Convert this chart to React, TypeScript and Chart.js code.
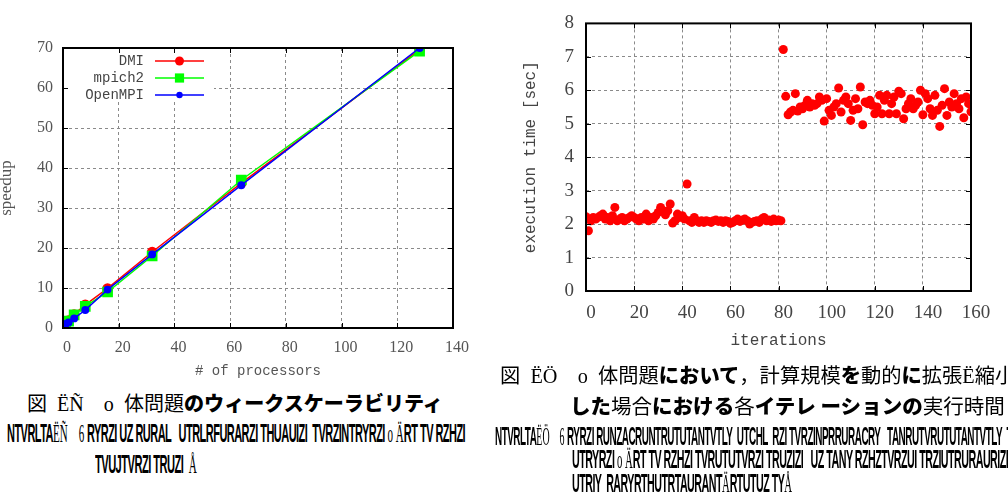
import React, { useEffect, useLayoutEffect, useRef } from "react";
import { Chart, registerables } from "chart.js";

Chart.register(...registerables);

// ---------- Left figure: weak scalability ----------
const processors = [1, 2, 4, 8, 16, 32, 64, 128];
const dmiSpeedup = [1, 1.9, 3.4, 5.8, 9.9, 19.0, 36.2, 69.6];
const mpich2Speedup = [1, 1.7, 3.3, 5.4, 9.0, 18.0, 37.0, 69.2];
const openmpiSpeedup = [1, 1.4, 2.4, 4.5, 9.6, 18.4, 35.7, 70.0];
const speedupXTicks = [0, 20, 40, 60, 80, 100, 120, 140];
const speedupYTicks = [0, 10, 20, 30, 40, 50, 60, 70];

// ---------- Right figure: execution time of each iteration ----------
const execTime = [
  2.22, 1.8, 2.1, 2.2, 2.15, 2.2, 2.25, 2.3, 2.15, 2.2,
  2.1, 2.25, 2.5, 2.1, 2.15, 2.2, 2.1, 2.15, 2.2, 2.25,
  2.2, 2.15, 2.1, 2.2, 2.15, 2.3, 2.1, 2.2, 2.15, 2.25,
  2.35, 2.5, 2.4, 2.28, 2.4, 2.6, 2.03, 2.1, 2.3, 2.2,
  2.25, 2.15, 3.2, 2.1, 2.05, 2.2, 2.1, 2.05, 2.1, 2.05,
  2.1, 2.08, 2.05, 2.1, 2.12, 2.08, 2.1, 2.05, 2.1, 2.08,
  2.02, 2.05, 2.1, 2.15, 2.08, 2.12, 2.15, 2.1, 2.0, 2.05,
  2.08, 2.1, 2.05, 2.15, 2.2, 2.1, 2.12, 2.08, 2.15, 2.1,
  2.12, 2.1, 7.22, 5.82, 5.27, 5.35, 5.4, 5.9, 5.38, 5.5,
  5.45, 5.55, 5.7, 5.5, 5.6, 5.55, 5.6, 5.8, 5.7, 5.08,
  5.75, 5.4, 5.25, 5.5, 5.6, 6.07, 5.35, 5.7, 5.8, 5.6,
  5.1, 5.4, 5.75, 5.45, 6.1, 4.97, 5.65, 5.6, 5.7, 5.55,
  5.3, 5.5, 5.85, 5.3, 5.7, 5.85, 5.3, 5.6, 5.8, 5.3,
  5.97, 5.9, 5.15, 5.45, 5.6, 5.75, 5.45, 5.55, 5.65, 6.0,
  5.27, 5.9, 5.75, 5.45, 5.25, 5.85, 5.4, 4.92, 5.55, 6.05,
  5.25, 5.65, 5.5, 5.9, 5.6, 5.45, 5.75, 5.18, 5.8, 5.6,
  5.36,
];
const iterXTicks = [0, 20, 40, 60, 80, 100, 120, 140, 160];
const timeYTicks = [0, 1, 2, 3, 4, 5, 6, 7, 8];

// ---------- Captions ----------
type Seg = [string, string];
const capL1: Seg[] = [["k", "図"], ["s", "  ËÑ    o  "], ["k", "体問題"], ["b", "のウィークスケーラビリティ"]];
const capL2: Seg[] = [["g", "NTVRLTA"], ["s", "ËÑ"], ["s", "    6 "], ["g", "RYRZI UZ RURAL   UTRLRFURARZI THUAUIZI  TVRZINTRYRZI"], ["s", " o Ä"], ["g", "RT TV RZHZI"]];
const capL3: Seg[] = [["g", "TVUJTVRZI TRUZI"], ["s", "  Å"]];
const capR1: Seg[] = [["k", "図"], ["s", "  ËÖ    o  "], ["k", "体問題"], ["b", "において"], ["k", "，計算規模"], ["b", "を"], ["k", "動的"], ["b", "に"], ["k", "拡張"], ["s", "Ë"], ["k", "縮小"]];
const capR2: Seg[] = [["b", "した"], ["k", "場合"], ["b", "における"], ["k", "各"], ["b", "イテレ ーションの"], ["k", "実行時間"]];
const capR3: Seg[] = [["g", "NTVRLTA"], ["s", "ËÖ"], ["s", "    6 "], ["g", "RYRZI RUNZACRUNTRUTUTANTVTLY  UTCHL  RZI TVRZINPRRURACRY   TANRUTVRUTUTANTVTLY  TVR"]];
const capR4: Seg[] = [["g", "UTRYRZI"], ["s", " o Ä"], ["g", "RT TV RZHZI TVRUTUTVRZI TRUZIZI   UZ TANY RZHZTVRZUI TRZIUTRURAURIZI"]];
const capR5: Seg[] = [["g", "UTRIY  RARYRTHUTRTAURANT"], ["s", "Ä"], ["g", "RTUTUZ TY"], ["s", "Å"]];

const segStyle = (k: string): React.CSSProperties => {
  if (k === "k") return { fontFamily: '"Noto Sans CJK JP"', fontWeight: 400, fontSize: "20px" };
  if (k === "b") return { fontFamily: '"Noto Sans CJK JP"', fontWeight: 900, fontSize: "20px" };
  if (k === "s") return { fontFamily: '"Liberation Serif"', fontWeight: 400, fontSize: "20px" };
  return { fontFamily: '"Liberation Sans Narrow", "Liberation Sans", sans-serif', fontWeight: 700, fontSize: "20px", letterSpacing: "-1px" };
};

function FitLine({ x, y, w, sy = 1, segs }: { x: number; y: number; w: number; sy?: number; segs: Seg[] }) {
  const ref = useRef<HTMLDivElement>(null);
  useLayoutEffect(() => {
    const el = ref.current;
    if (!el) return;
    const fit = () => {
      const nat = el.offsetWidth;
      if (nat > 0) el.style.transform = `scale(${w / nat}, ${sy})`;
    };
    fit();
    const f = (document as any).fonts;
    if (f && f.ready) f.ready.then(fit);
  }, [w, sy]);
  return (
    <div
      ref={ref}
      style={{
        position: "absolute",
        left: x,
        top: y - 16,
        height: 32,
        lineHeight: "32px",
        whiteSpace: "pre",
        width: "max-content",
        transformOrigin: "0 50%",
        color: "#000",
      }}
    >
      {segs.map((s, i) => (
        <span key={i} style={segStyle(s[0])}>{s[1]}</span>
      ))}
    </div>
  );
}

// ---------- Chart helpers ----------
function makeFramePlugin(withLegend: boolean) {
  return {
    id: "gnuplotFrame",
    afterDraw(chart: any) {
      const { ctx, chartArea: a, scales } = chart;
      ctx.save();
      if (withLegend) {
        ctx.fillStyle = "#fff";
        ctx.fillRect(a.left + 1, a.top + 1, 150, 52);
        chart.data.datasets.forEach((ds: any, i: number) => {
          const y = a.top + 13 + i * 17;
          ctx.font = '14px "Liberation Mono"';
          ctx.fillStyle = "#444";
          ctx.textAlign = "right";
          ctx.textBaseline = "middle";
          ctx.fillText(ds.label, a.left + 81, y);
          ctx.strokeStyle = ds.borderColor;
          ctx.lineWidth = 1.5;
          ctx.beginPath();
          ctx.moveTo(a.left + 92, y);
          ctx.lineTo(a.left + 141, y);
          ctx.stroke();
          ctx.fillStyle = ds.backgroundColor;
          const mx = a.left + 116.5;
          if (ds.pointStyle === "rect") {
            const s = ds.pointRadius * Math.SQRT1_2;
            ctx.fillRect(mx - s, y - s, 2 * s, 2 * s);
          } else {
            ctx.beginPath();
            ctx.arc(mx, y, ds.pointRadius, 0, Math.PI * 2);
            ctx.fill();
          }
        });
      }
      ctx.strokeStyle = "#000";
      ctx.lineWidth = 1;
      ctx.beginPath();
      const xs = scales.x;
      const ys = scales.y;
      xs.ticks.forEach((t: any) => {
        const px = Math.round(xs.getPixelForValue(t.value)) + 0.5;
        ctx.moveTo(px, a.bottom);
        ctx.lineTo(px, a.bottom - 5);
        ctx.moveTo(px, a.top);
        ctx.lineTo(px, a.top + 5);
      });
      ys.ticks.forEach((t: any) => {
        const py = Math.round(ys.getPixelForValue(t.value)) + 0.5;
        ctx.moveTo(a.left, py);
        ctx.lineTo(a.left + 5, py);
        ctx.moveTo(a.right, py);
        ctx.lineTo(a.right - 5, py);
      });
      ctx.stroke();
      ctx.lineWidth = 2;
      ctx.strokeRect(a.left, a.top, a.right - a.left, a.bottom - a.top);
      ctx.restore();
    },
  };
}

const pts = (xs: number[], ys: number[]) => xs.map((x, i) => ({ x, y: ys[i] }));

export default function App() {
  const leftRef = useRef<HTMLCanvasElement>(null);
  const rightRef = useRef<HTMLCanvasElement>(null);

  useEffect(() => {
    const grid = { color: "#8a8a8a", lineWidth: 1, drawTicks: false };
    const border = { display: false, dash: [3, 3] };

    const left = new Chart(leftRef.current as HTMLCanvasElement, {
      type: "scatter",
      data: {
        datasets: [
          { label: "DMI", data: pts(processors, dmiSpeedup), borderColor: "#ff0000", backgroundColor: "#ff0000", pointStyle: "circle", pointRadius: 4.5, borderWidth: 1.5, showLine: true, order: 2 },
          { label: "mpich2", data: pts(processors, mpich2Speedup), borderColor: "#00ff00", backgroundColor: "#00ff00", pointStyle: "rect", pointRadius: 6.5, borderWidth: 1.5, showLine: true, order: 1 },
          { label: "OpenMPI", data: pts(processors, openmpiSpeedup), borderColor: "#0000ff", backgroundColor: "#0000ff", pointStyle: "circle", pointRadius: 3.2, borderWidth: 1.5, showLine: true, order: 0 },
        ] as any,
      },
      options: {
        responsive: false,
        animation: false,
        devicePixelRatio: 1,
        layout: { padding: { top: 48, right: 27, bottom: 0, left: 0 } },
        plugins: { legend: { display: false }, tooltip: { enabled: false } },
        elements: { point: { borderWidth: 0 } },
        scales: {
          x: {
            type: "linear", min: 0, max: 140,
            afterBuildTicks: (s: any) => { s.ticks = speedupXTicks.map((v) => ({ value: v })); },
            afterFit: (s: any) => { s.height = 57; },
            ticks: { color: "#555", font: { family: '"Liberation Serif"', size: 16 }, padding: 10, labelOffset: 4, maxRotation: 0, autoSkip: false },
            grid, border,
            title: { display: true, text: "# of processors", color: "#555", font: { family: '"Liberation Mono"', size: 14, lineHeight: 1 }, padding: { top: 0, bottom: 7 } },
          },
          y: {
            type: "linear", min: 0, max: 70,
            afterBuildTicks: (s: any) => { s.ticks = speedupYTicks.map((v) => ({ value: v })); },
            afterFit: (s: any) => { s.width = 63; },
            ticks: { color: "#555", font: { family: '"Liberation Serif"', size: 16 }, padding: 10, autoSkip: false },
            grid, border,
            title: { display: true, text: "speedup", color: "#555", font: { family: '"Liberation Serif"', size: 17, lineHeight: 0.75 }, padding: { top: 0, bottom: 0 } },
          },
        },
      } as any,
      plugins: [makeFramePlugin(true)],
    });

    const right = new Chart(rightRef.current as HTMLCanvasElement, {
      type: "scatter",
      data: {
        datasets: [
          { label: "execution time", data: execTime.map((v, i) => ({ x: i, y: v })), borderColor: "#ff0000", backgroundColor: "#ff0000", pointRadius: 4.5, borderWidth: 0 },
        ] as any,
      },
      options: {
        responsive: false,
        animation: false,
        devicePixelRatio: 1,
        layout: { padding: { top: 20, right: 37, bottom: 0, left: 0 } },
        plugins: { legend: { display: false }, tooltip: { enabled: false } },
        scales: {
          x: {
            type: "linear", min: 0, max: 160,
            afterBuildTicks: (s: any) => { s.ticks = iterXTicks.map((v) => ({ value: v })); },
            afterFit: (s: any) => { s.height = 69; },
            ticks: { color: "#444", font: { family: '"Liberation Serif"', size: 19 }, padding: 11, labelOffset: 5, maxRotation: 0, autoSkip: false },
            grid, border,
            title: { display: true, text: "iterations", color: "#444", font: { family: '"Liberation Mono"', size: 16, lineHeight: 1 }, padding: { top: 0, bottom: 11 } },
          },
          y: {
            type: "linear", min: 0, max: 8,
            afterBuildTicks: (s: any) => { s.ticks = timeYTicks.map((v) => ({ value: v })); },
            afterFit: (s: any) => { s.width = 86; },
            ticks: { color: "#444", font: { family: '"Liberation Serif"', size: 19 }, padding: 12, autoSkip: false },
            grid, border,
            title: { display: true, text: "execution time [sec]", color: "#444", font: { family: '"Liberation Mono"', size: 16, lineHeight: 1 }, padding: { top: 23, bottom: 0 } },
          },
        },
      } as any,
      plugins: [makeFramePlugin(false)],
    });

    return () => {
      left.destroy();
      right.destroy();
    };
  }, []);

  return (
    <div style={{ position: "absolute", left: 0, top: 0, width: 1008, height: 496, overflow: "hidden", background: "#fff" }}>
      <canvas ref={leftRef} width={480} height={385} style={{ position: "absolute", left: 0, top: 0 }} />
      <canvas ref={rightRef} width={508} height={360} style={{ position: "absolute", left: 500, top: 0 }} />
      <FitLine x={27} y={403} w={416} segs={capL1} />
      <FitLine x={7} y={433} w={458} sy={1.25} segs={capL2} />
      <FitLine x={95} y={464} w={102} sy={1.25} segs={capL3} />
      <FitLine x={500} y={375} w={515} segs={capR1} />
      <FitLine x={570} y={406} w={435} segs={capR2} />
      <FitLine x={495} y={436} w={530} sy={1.25} segs={capR3} />
      <FitLine x={572} y={459} w={436} sy={1.25} segs={capR4} />
      <FitLine x={572} y={483} w={220} sy={1.25} segs={capR5} />
    </div>
  );
}
